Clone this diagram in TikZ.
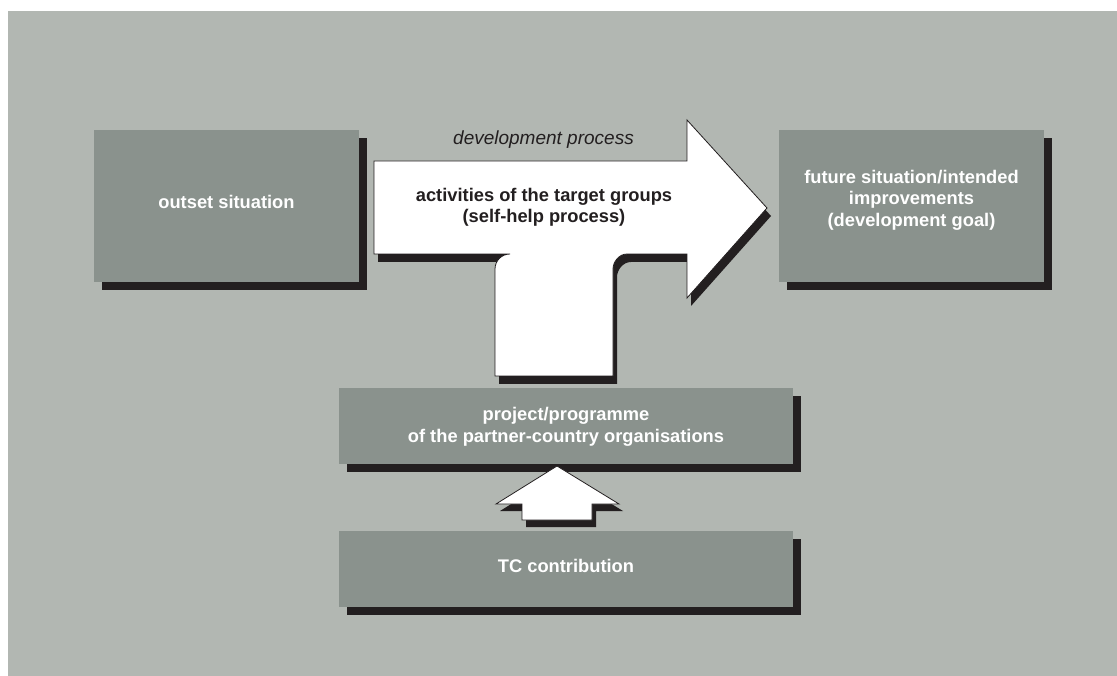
\documentclass[tikz,border=0pt]{standalone}
\usepackage{fontspec}
\setmainfont{Liberation Sans}
\usetikzlibrary{shadows}
\definecolor{bgc}{RGB}{178,183,178}
\definecolor{boxc}{RGB}{138,146,141}
\definecolor{shd}{RGB}{35,31,32}
\begin{document}
\begin{tikzpicture}[x=1pt,y=-1pt,
  gbox/.style={draw=none, fill=boxc, inner sep=0pt,
    drop shadow={shadow xshift=8pt, shadow yshift=-8pt, fill=shd, opacity=1}},
  wtxt/.style={text=white, align=center, inner sep=0pt,
    font=\fontsize{18.3}{21.5}\selectfont\bfseries},
  btxt/.style={text=shd, align=center, inner sep=0pt,
    font=\fontsize{18.3}{21.5}\selectfont\bfseries},
  itxt/.style={text=shd, inner sep=0pt,
    font=\fontsize{19}{22}\selectfont\itshape},
  whitearrow/.style={fill=white, draw=shd, line width=0.8pt, line join=miter},
  arrowshadow/.style={fill=shd, draw=none}]
\useasboundingbox (0,0) rectangle (1117,676);
\fill[white] (0,0) rectangle (1117,676);
\fill[bgc] (8,11) rectangle (1117,676);

% boxes
\node[gbox, minimum width=265pt, minimum height=152pt] (outset) at (226.5,206) {};
\node[gbox, minimum width=265pt, minimum height=152pt] (future) at (911.5,206) {};
\node[gbox, minimum width=454pt, minimum height=76pt] (project) at (566,426) {};
\node[gbox, minimum width=454pt, minimum height=76pt] (tc) at (566,569) {};

\node[wtxt] (outsetT) at (226.5,201.5) {outset situation};
\node[wtxt] (futureT) at (911.5,200) {future situation/intended\\improvements\\(development goal)};
\node[wtxt] (projectT) at (566,427) {project/programme\\of the partner-country organisations};
\node[wtxt] (tcT) at (566,566) {TC contribution};

% big T-shaped arrow
\def\bigarrow{(374,161) -- (687,161) -- (687,120) -- (767,208) -- (687,298) -- (687,254) -- (627,254)
  .. controls (618.7,254) and (613,262.3) .. (613,269) -- (613,376) -- (495,376) -- (495,269)
  .. controls (495,260.7) and (501.7,254) .. (510,254) -- (374,254) -- cycle}
\fill[arrowshadow, shift={(4,8)}] \bigarrow;
\draw[whitearrow] \bigarrow;
\node[itxt] (devT) at (543.5,140) {development process};
\node[btxt] (actT) at (544,207.5) {activities of the target groups\\(self-help process)};

% small up arrow
\def\smallarrow{(557,466) -- (619,504) -- (592,504) -- (592,520) -- (522,520) -- (522,504) -- (496,504) -- cycle}
\fill[arrowshadow, shift={(4,7)}] \smallarrow;
\draw[whitearrow] \smallarrow;
\end{tikzpicture}
\end{document}
